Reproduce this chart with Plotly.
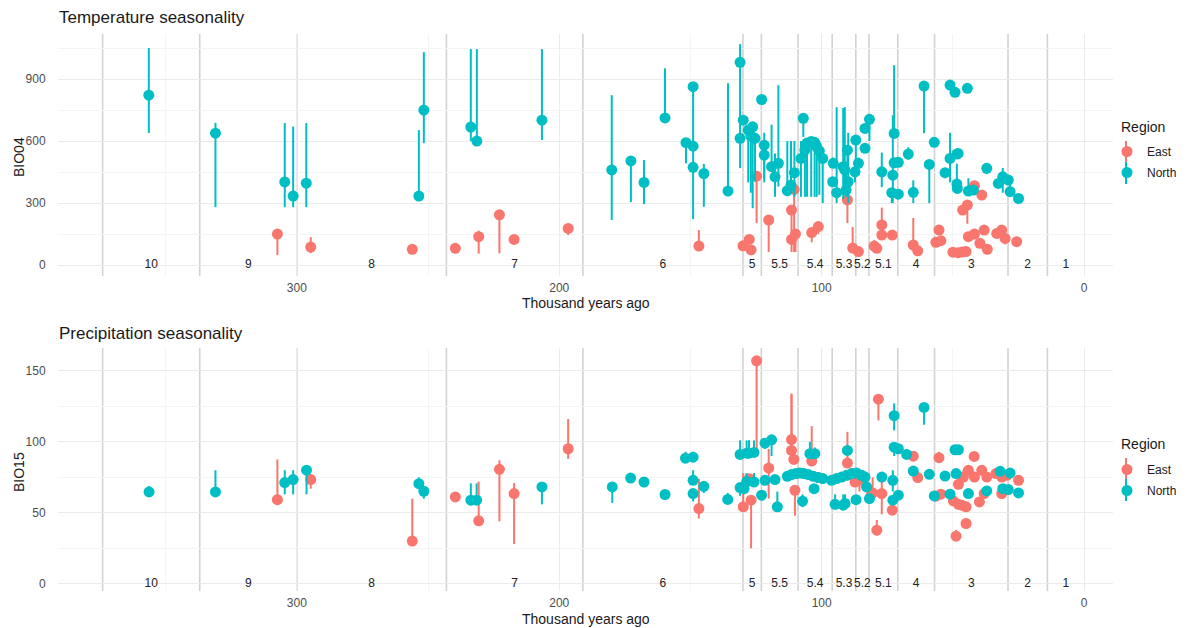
import plotly.graph_objects as go

EAST = "#F8766D"
NORTH = "#00BFC4"
FONT = "Liberation Sans, Arial, Helvetica, sans-serif"

# ---------------- MIS stage boundaries / labels (thousand years ago) ----------------
mis_bounds = [14, 29, 57, 71, 82, 87, 96, 109, 123, 130, 191, 243, 300, 337, 374]
mis_labels = ["1", "2", "3", "4", "5.1", "5.2", "5.3", "5.4", "5.5", "5", "6", "7", "8", "9", "10"]
mis_label_age = [7, 21.5, 43, 64, 76.5, 84.5, 91.5, 102.5, 116, 126.5, 160.5, 217, 271.5, 318.5, 355.5]

# ---------------- Temperature seasonality (BIO04) : North ----------------
tn_age = [356.4, 331, 304.6, 301.4, 296.4, 253.5, 251.6, 233.7, 231.4, 206.6,
          180, 172.7, 167.7, 159.7, 151.7, 149, 149, 149, 144.9, 135.7,
          131.1, 129.9, 131.1, 128, 126.3, 127, 125.4, 122.9, 121.9, 121.9,
          119.1, 116.5, 117.8, 113.1, 111.7, 110.4, 107, 107.9, 106.4, 105.6,
          104, 102.7, 101.9, 100.9, 99.6, 95.6, 95.8, 94.3, 91.8, 91.2,
          89.9, 90.2, 90.7, 87, 86, 87.3, 83.5, 81.8, 83.5, 72.4,
          77.1, 72.9, 72.4, 70.8, 73.3, 70.8, 67, 65.1, 61, 59,
          57.1, 53, 51.1, 48.5, 48, 51.1, 49.2, 44.5, 48.5, 48.3,
          44.1, 42.2, 37.1, 32.7, 31, 28.9, 28.2, 25]
tn_val = [822, 638, 402, 334, 396, 334, 750, 668, 600, 701,
          460, 504, 400, 712, 592, 863, 575, 473, 443, 358,
          981, 701, 613, 653, 669, 624, 613, 801, 580, 532,
          476, 492, 427, 360, 387, 447, 710, 516, 556, 590,
          598, 594, 572, 552, 516, 492, 403, 350, 476, 460,
          403, 556, 363, 605, 492, 451, 661, 705, 565, 637,
          451, 435, 495, 497, 350, 343, 537, 352, 866, 487,
          594, 447, 516, 537, 540, 871, 836, 855, 392, 371,
          358, 363, 468, 395, 427, 411, 355, 322]
tn_lo = [639, 280, 280, 280, 280, 334, 590, 600, 600, 605,
         218, 305, 295, 712, 492, 222, 575, 473, 282, 358,
         469, 701, 613, 400, 275, 350, 403, 801, 420, 400,
         476, 380, 330, 360, 387, 330, 620, 330, 330, 330,
         330, 330, 330, 340, 300, 492, 403, 300, 320, 350,
         300, 480, 330, 500, 440, 400, 661, 600, 565, 637,
         377, 300, 495, 497, 300, 343, 510, 300, 638, 300,
         594, 420, 400, 537, 540, 871, 836, 855, 392, 371,
         358, 363, 440, 395, 350, 411, 330, 322]
tn_hi = [1050, 688, 687, 670, 687, 653, 1030, 1045, 1045, 1045,
         822, 504, 508, 952, 592, 863, 575, 473, 489, 880,
         1069, 701, 613, 653, 669, 624, 613, 801, 640, 580,
         680, 870, 540, 600, 600, 600, 710, 600, 600, 600,
         598, 598, 600, 600, 516, 520, 403, 764, 760, 764,
         640, 556, 500, 605, 520, 480, 661, 705, 565, 967,
         544, 725, 495, 497, 350, 343, 570, 410, 866, 487,
         594, 447, 640, 537, 540, 871, 836, 855, 490, 371,
         420, 363, 468, 395, 470, 411, 411, 322]

# ---------------- Temperature seasonality (BIO04) : East ----------------
te_age = [307.4, 294.7, 256, 239.6, 230.7, 222.8, 217.2, 196.6, 146.8, 130,
          127.6, 126.9, 124.8, 120.2, 111.5, 110.5, 111.5, 110, 103.8, 101.3,
          90.2, 88.2, 86, 80, 79, 77.1, 77.1, 73.1, 65.1, 63.4,
          56.5, 55.3, 54.6, 50, 48, 46.5, 45, 46.3, 44.5, 41.8,
          39, 44.1, 41.8, 39.7, 36.9, 38.1, 33.3, 31.4, 30.1, 25.7]
te_val = [150, 87, 76, 81, 137, 243, 124, 177, 92, 93,
          124, 73, 430, 218, 266, 366, 124, 150, 157, 186,
          315, 82, 65, 92, 81, 194, 145, 145, 97, 69,
          110, 169, 118, 62, 60, 63, 65, 266, 290, 384,
          339, 137, 150, 105, 76, 169, 153, 169, 129, 113]
te_lo = [48, 58, 76, 81, 55, 57, 124, 145, 92, 93,
         124, 73, 203, 63, 63, 63, 100, 63, 110, 150,
         203, 82, 65, 92, 81, 194, 145, 145, 97, 69,
         110, 169, 118, 62, 60, 63, 65, 266, 200, 384,
         339, 137, 150, 105, 76, 169, 153, 169, 100, 113]
te_hi = [150, 135, 100, 81, 166, 243, 124, 177, 169, 93,
         124, 73, 445, 218, 266, 370, 124, 160, 157, 186,
         315, 184, 65, 120, 81, 278, 145, 145, 228, 69,
         110, 169, 118, 62, 60, 63, 65, 266, 290, 384,
         339, 137, 150, 130, 76, 169, 153, 169, 129, 113]

# ---------------- Precipitation seasonality (BIO15) : North ----------------
bn_age = [356.3, 331, 304.6, 301.4, 296.3, 253.5, 251.6, 233.7, 231.5, 206.6,
          179.8, 172.8, 167.7, 159.7, 151.9, 149, 149, 149, 144.9, 135.8,
          131.1, 131.1, 129.6, 128.6, 127.7, 125.8, 128.6, 125.8, 122.9, 121.6,
          119.1, 121.6, 117.8, 116.9, 113.1, 111.5, 109.8, 108.3, 106.8, 105.1,
          103.2, 101.3, 99.6, 107.3, 102.9, 104.5, 102.6, 96.2, 94.3, 92.4,
          90.5, 88.6, 86.7, 84.8, 83.5, 94.9, 91.8, 91.1, 90.2, 86.9,
          82.9, 81.8, 77.1, 72.9, 72.9, 72.4, 72.4, 70.8, 70.8, 67.6,
          65.1, 61, 59, 57.1, 53, 51.1, 49.2, 47.9, 48.8, 44.1,
          37.1, 32, 28.2, 31, 28.9, 25]
bn_val = [64.7, 64.7, 71.3, 73.4, 80, 70.5, 65.2, 58.9, 58.9, 68.2,
          68.2, 74.5, 71.7, 62.9, 88.5, 89.2, 72.9, 63.6, 68.7, 59.4,
          91.1, 67.8, 67, 92, 92, 92.5, 72, 71.7, 62.4, 99,
          101.4, 72.9, 73.4, 54.2, 75.7, 76.9, 77.6, 78, 77.6, 76.9,
          75.7, 74.8, 74.1, 58.2, 67, 91.6, 91.6, 72.9, 74.1, 75.2,
          76.4, 77.6, 78, 76.4, 75.2, 56, 55.4, 56.6, 93.9, 59.3,
          68.2, 60, 75.2, 72.9, 58.9, 118.4, 96.2, 95.1, 62.4, 91.1,
          79.4, 124.2, 77.1, 61.9, 75.9, 63.1, 94.4, 94.4, 77.6, 63.6,
          65.4, 79.2, 78, 67, 66.4, 64]
bn_lo = [62, 64.7, 63, 63, 63, 70.5, 60, 58.9, 58.9, 56,
         57, 74.5, 71.7, 60, 88.5, 89.2, 72.9, 58, 64, 59.4,
         91.1, 62, 67, 92, 92, 92.5, 72, 71.7, 62.4, 95,
         90, 72.9, 73.4, 54.2, 73, 74, 75, 75, 75, 74,
         73, 72, 72, 54, 67, 91.6, 91.6, 70, 71, 72,
         73, 74, 75, 73, 72, 56, 55.4, 56.6, 93.9, 59.3,
         68.2, 60, 75.2, 65, 58.9, 108, 90, 95.1, 62.4, 91.1,
         79.4, 112, 77.1, 61.9, 75.9, 63.1, 94.4, 94.4, 77.6, 63.6,
         65.4, 79.2, 78, 67, 66.4, 64]
bn_hi = [69, 80, 80, 80, 80, 75, 65.2, 70.8, 70.8, 68.2,
         68.2, 74.5, 74, 62.9, 93, 93, 80, 66, 68.7, 64,
         101, 67.8, 67, 101, 101, 101, 78, 78, 62.4, 99,
         101.4, 72.9, 73.4, 65, 78, 79, 80, 80, 80, 79,
         78, 77, 76, 63, 67, 100, 96, 76, 77, 78,
         79, 80, 80, 79, 78, 63, 63, 63, 93.9, 59.3,
         68.2, 60, 75.2, 80, 58.9, 127, 96.2, 95.1, 62.4, 95,
         79.4, 124.2, 77.1, 61.9, 75.9, 63.1, 94.4, 94.4, 77.6, 63.6,
         65.4, 79.2, 78, 67, 66.4, 64]

# ---------------- Precipitation seasonality (BIO15) : East ----------------
be_age = [307.4, 294.7, 256, 239.6, 230.7, 222.8, 217.2, 196.6, 146.8, 129.9,
          127.6, 126.9, 124.8, 120.2, 111.5, 111.5, 110.6, 110.2, 103.8, 101.3,
          90.2, 88.2, 87.3, 85.6, 80.6, 78.4, 79, 77.1, 81, 73.1,
          65.1, 63.4, 56.5, 55.3, 54.6, 49.8, 47.9, 46.6, 45, 48.8,
          45, 47.9, 46, 44.1, 41.8, 41.9, 39.9, 38.1, 39, 37.1,
          33.6, 31.4, 29.5, 31.4, 25]
be_val = [59.3, 73.4, 30.1, 61.2, 44.4, 80.6, 63.6, 95.1, 53, 54.2,
          74, 58.9, 157, 81.5, 101.6, 93.9, 87.6, 65.9, 86.4, 74.8,
          85, 77.6, 71.7, 72.9, 64, 130, 37.8, 63.6, 63.6, 51.9,
          89.9, 74.8, 61.7, 88.8, 63.1, 58.4, 56, 55.4, 54.2, 33.6,
          42.5, 70.1, 75.2, 79.9, 75.2, 89.7, 57.7, 63.6, 79.9, 75.2,
          77.6, 75.2, 76.4, 63.6, 72.9]
be_lo = [59.3, 67, 30.1, 61.2, 44.4, 44, 28, 88, 46, 54.2,
         74, 25, 95, 60, 101.6, 93.9, 87.6, 48, 86.4, 74.8,
         85, 77.6, 71.7, 65, 64, 115, 34, 49, 63.6, 51.9,
         89.9, 74.8, 61.7, 88.8, 63.1, 58.4, 56, 55.4, 54.2, 33.6,
         42.5, 70.1, 75.2, 79.9, 75.2, 89.7, 57.7, 63.6, 79.9, 75.2,
         77.6, 75.2, 76.4, 63.6, 72.9]
be_hi = [87.6, 73.4, 60, 61.2, 72, 87, 71, 116, 74, 78,
         74, 58.9, 157, 95, 134, 133, 87.6, 65.9, 111, 74.8,
         107, 77.6, 71.7, 80, 75, 130, 45, 75, 63.6, 51.9,
         89.9, 74.8, 61.7, 93, 63.1, 58.4, 56, 55.4, 54.2, 38,
         42.5, 70.1, 80, 79.9, 75.2, 89.7, 57.7, 63.6, 79.9, 75.2,
         77.6, 75.2, 76.4, 63.6, 72.9]

W, H = 1200, 628


def px_x(p):
    return p / W


def px_y(p):
    return 1 - p / H


fig = go.Figure()


def add_series(age, val, lo, hi, color, name, xa, ya, legend):
    plus = [max(h - v, 0) for v, h in zip(val, hi)]
    minus = [max(v - l, 0) for v, l in zip(val, lo)]
    fig.add_trace(go.Scatter(
        x=age, y=val, mode="markers", name=name, legendgroup=name + legend,
        marker=dict(color=color, size=11, line=dict(width=0)),
        error_y=dict(type="data", symmetric=False, array=plus, arrayminus=minus,
                     width=0, thickness=2, color=color),
        xaxis=xa, yaxis=ya, legend=legend, showlegend=True,
    ))


for xa, ya in (("x", "y"), ("x2", "y2")):
    fig.add_trace(go.Scatter(
        x=mis_label_age, y=[0] * len(mis_label_age), text=mis_labels, mode="text",
        textfont=dict(size=12, color="#222222", family=FONT), textposition="middle center",
        xaxis=xa, yaxis=ya, showlegend=False, hoverinfo="skip",
    ))

add_series(te_age, te_val, te_lo, te_hi, EAST, "East", "x", "y", "legend")
add_series(tn_age, tn_val, tn_lo, tn_hi, NORTH, "North", "x", "y", "legend")
add_series(be_age, be_val, be_lo, be_hi, EAST, "East", "x2", "y2", "legend2")
add_series(bn_age, bn_val, bn_lo, bn_hi, NORTH, "North", "x2", "y2", "legend2")

shapes = []
for yref in ("y domain", "y2 domain"):
    xref = "x" if yref == "y domain" else "x2"
    for b in mis_bounds:
        shapes.append(dict(type="line", xref=xref, yref=yref, x0=b, x1=b, y0=0, y1=1,
                           line=dict(color="#D2D2D2", width=1.6), layer="below"))

# legend key lines (pointrange glyph: vertical line through the dot)
legend_rows = [(152, EAST), (173, NORTH), (469, EAST), (490, NORTH)]
for cy, col in legend_rows:
    shapes.append(dict(type="line", xref="paper", yref="paper",
                       x0=px_x(1126), x1=px_x(1126), y0=px_y(cy - 11), y1=px_y(cy + 11),
                       line=dict(color=col, width=2), layer="above"))

x_dom = [px_x(58), px_x(1113)]
xcommon = dict(range=[391, -11], tick0=0, dtick=100, showgrid=True, gridcolor="#EBEBEB",
               gridwidth=1, zeroline=False, showline=False, ticks="outside", ticklen=1,
               tickcolor="rgba(0,0,0,0)", tickfont=dict(size=12, color="#4D4D4D", family=FONT),
               minor=dict(tick0=0, dtick=50, showgrid=True, gridcolor="#F4F4F4", gridwidth=1),
               domain=x_dom, fixedrange=True)
ycommon = dict(showgrid=True, gridcolor="#EBEBEB", gridwidth=1, zeroline=False, showline=False,
               ticks="outside", ticklen=9, tickcolor="rgba(0,0,0,0)",
               tickfont=dict(size=12, color="#4D4D4D", family=FONT), fixedrange=True)

legend_common = dict(xanchor="left", yanchor="top", font=dict(size=12, color="#1a1a1a"),
                     bgcolor="rgba(0,0,0,0)", tracegroupgap=2)

fig.update_layout(
    width=W, height=H, margin=dict(l=0, r=0, t=0, b=0),
    paper_bgcolor="white", plot_bgcolor="white",
    font=dict(family=FONT, color="#1a1a1a"),
    xaxis=dict(xcommon, anchor="y"),
    xaxis2=dict(xcommon, anchor="y2"),
    yaxis=dict(ycommon, range=[-53, 1118], tick0=0, dtick=300,
               minor=dict(tick0=0, dtick=150, showgrid=True, gridcolor="#F4F4F4"),
               domain=[px_y(276), px_y(34)], anchor="x"),
    yaxis2=dict(ycommon, range=[-5, 166], tick0=0, dtick=50,
                minor=dict(tick0=0, dtick=25, showgrid=True, gridcolor="#F4F4F4"),
                domain=[px_y(591), px_y(348)], anchor="x2"),
    shapes=shapes,
    legend=dict(legend_common, x=px_x(1107), y=px_y(137)),
    legend2=dict(legend_common, x=px_x(1107), y=px_y(455)),
    showlegend=True,
)

annots = [
    dict(text="Temperature seasonality", x=px_x(57), y=px_y(17), size=17, angle=0, xa="left"),
    dict(text="Precipitation seasonality", x=px_x(57), y=px_y(333), size=17, angle=0, xa="left"),
    dict(text="BIO04", x=px_x(19), y=px_y(157), size=14, angle=-90, xa="center"),
    dict(text="BIO15", x=px_x(19), y=px_y(472), size=14, angle=-90, xa="center"),
    dict(text="Thousand years ago", x=px_x(585.5), y=px_y(303), size=14, angle=0, xa="center"),
    dict(text="Thousand years ago", x=px_x(585.5), y=px_y(619), size=14, angle=0, xa="center"),
    dict(text="Region", x=px_x(1119), y=px_y(127), size=14, angle=0, xa="left"),
    dict(text="Region", x=px_x(1119), y=px_y(444), size=14, angle=0, xa="left"),
]
for a in annots:
    fig.add_annotation(text=a["text"], x=a["x"], y=a["y"], xref="paper", yref="paper",
                       xanchor=a["xa"], yanchor="middle", showarrow=False, textangle=a["angle"],
                       font=dict(size=a["size"], color="#1a1a1a", family=FONT))

fig.write_html("out.html")
